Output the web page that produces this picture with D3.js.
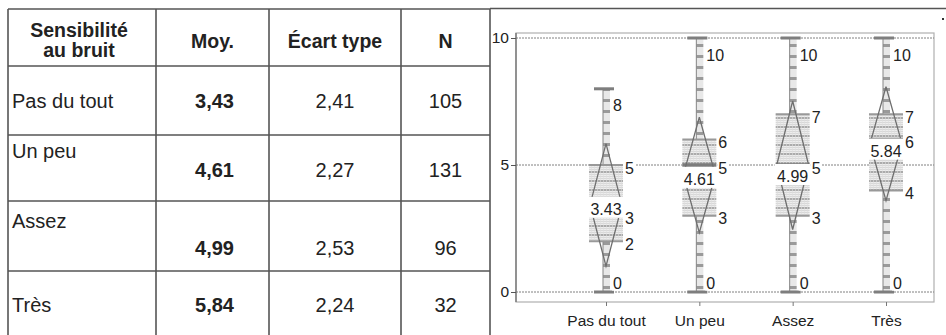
<!DOCTYPE html>
<html>
<head>
<meta charset="utf-8">
<script src="https://cdn.jsdelivr.net/npm/d3@7"></script>
<style>
  body { margin: 0; background: #fff; }
  svg { display: block; font-family: "Liberation Sans", Arial, sans-serif; }
</style>
</head>
<body>
<svg id="fig" width="946" height="335"></svg>
<script>
// data
var groups  = ["Pas du tout", "Un peu", "Assez", "Très"];
var means   = [3.43, 4.61, 4.99, 5.84];
var sds     = [2.41, 2.27, 2.53, 2.24];
var counts  = [105, 131, 96, 32];
var mins    = [0, 0, 0, 0];
var q1s     = [2, 3, 3, 4];
var medians = [3, 5, 5, 6];
var q3s     = [5, 6, 7, 7];
var maxs    = [8, 10, 10, 10];
var headers = [["Sensibilité", "au bruit"], ["Moy."], ["Écart type"], ["N"]];
var yTicks  = [0, 5, 10];

var svg = d3.select("svg#fig");
var comma = function(v) { return d3.format(".2f")(v).replace(".", ","); };
var FONT = "Liberation Sans, Arial, sans-serif";

// ---------- table ----------
var colEdges = [8, 156, 269, 401, 490];
var rowEdges = [9, 66, 135, 201, 271, 345];
// baseline offsets inside each body row: [label, values]
var rowText  = [[42, 42], [23, 42], [27, 54], [41, 41]];

var tbl = svg.append("g").attr("class", "table");

tbl.selectAll("line.h")
  .data(rowEdges.slice(0, 5))
  .enter().append("line")
  .attr("x1", colEdges[0]).attr("x2", colEdges[4])
  .attr("y1", function(d) { return d; }).attr("y2", function(d) { return d; })
  .attr("stroke", "#555").attr("stroke-width", 1.6);

tbl.selectAll("line.v")
  .data(colEdges)
  .enter().append("line")
  .attr("x1", function(d) { return d; }).attr("x2", function(d) { return d; })
  .attr("y1", rowEdges[0]).attr("y2", 335)
  .attr("stroke", "#555").attr("stroke-width", 1.6);

var colMid = function(i) { return (colEdges[i] + colEdges[i + 1]) / 2; };

headers.forEach(function(lines, i) {
  var t = tbl.append("text")
    .attr("x", colMid(i))
    .attr("text-anchor", "middle")
    .attr("font-size", 19.5).attr("font-weight", "bold").attr("fill", "#222");
  if (lines.length == 2) {
    t.attr("y", 37);
    t.append("tspan").attr("x", colMid(i) - 3).text(lines[0]);
    t.append("tspan").attr("x", colMid(i) - 3).attr("dy", 20).text(lines[1]);
  } else {
    t.attr("y", 48).text(lines[0]);
  }
});

groups.forEach(function(g, i) {
  var top = rowEdges[i + 1];
  var yl = top + rowText[i][0], yv = top + rowText[i][1];
  tbl.append("text").attr("x", 12).attr("y", yl)
    .attr("font-size", 20).attr("fill", "#222").text(g);
  tbl.append("text").attr("x", colMid(1) + 2).attr("y", yv).attr("text-anchor", "middle")
    .attr("font-size", 20).attr("font-weight", "bold").attr("fill", "#222").text(comma(means[i]));
  tbl.append("text").attr("x", colMid(2)).attr("y", yv).attr("text-anchor", "middle")
    .attr("font-size", 20).attr("fill", "#222").text(comma(sds[i]));
  tbl.append("text").attr("x", colMid(3)).attr("y", yv).attr("text-anchor", "middle")
    .attr("font-size", 20).attr("fill", "#222").text(counts[i]);
});

// ---------- chart panel ----------
svg.append("line").attr("x1", 490).attr("x2", 946).attr("y1", 8.5).attr("y2", 8.5)
  .attr("stroke", "#555").attr("stroke-width", 1.6);
svg.append("rect").attr("x", 942).attr("y", 18).attr("width", 2).attr("height", 2).attr("fill", "#333");

var plot = { left: 516, right: 934, top: 33, bottom: 302 };

var y = d3.scaleLinear().domain([0, 10]).range([292, 38]);
var x = d3.scalePoint().domain(groups).range([606, 886]);

// patterns
var defs = svg.append("defs");
var bp = defs.append("pattern").attr("id", "boxfill")
  .attr("patternUnits", "userSpaceOnUse").attr("width", 3).attr("height", 9);
bp.append("rect").attr("width", 3).attr("height", 9).attr("fill", "#ededed");
bp.append("rect").attr("y", 0).attr("width", 3).attr("height", 2).attr("fill", "#ababab");
[3, 5, 7].forEach(function(v) {
  bp.append("rect").attr("y", v).attr("width", 3).attr("height", 1).attr("fill", "#d8d8d8");
});
bp.append("rect").attr("x", 0).attr("width", 1).attr("height", 9).attr("fill", "#dedede").attr("opacity", 0.6);

var wp = defs.append("pattern").attr("id", "whisk")
  .attr("patternUnits", "userSpaceOnUse").attr("width", 8).attr("height", 11);
wp.append("rect").attr("width", 8).attr("height", 11).attr("fill", "#e8e8e8");
wp.append("rect").attr("y", 0).attr("width", 8).attr("height", 3).attr("fill", "#9a9a9a");

// frame
svg.append("rect")
  .attr("x", plot.left).attr("y", plot.top)
  .attr("width", plot.right - plot.left).attr("height", plot.bottom - plot.top)
  .attr("fill", "none").attr("stroke", "#b0b0b0").attr("stroke-width", 1.2);

// gridlines
svg.append("g").selectAll("line")
  .data(yTicks).enter().append("line")
  .attr("x1", plot.left).attr("x2", plot.right)
  .attr("y1", function(d) { return y(d); }).attr("y2", function(d) { return y(d); })
  .attr("stroke", "#808080").attr("stroke-width", 1).attr("stroke-dasharray", "2,1");

// y axis
var yAxis = svg.append("g")
  .attr("transform", "translate(" + plot.left + ",0)")
  .call(d3.axisLeft(y).tickValues(yTicks).tickSize(5).tickPadding(2).tickFormat(d3.format("d")));
yAxis.select(".domain").attr("d", "M0," + plot.top + "V" + plot.bottom).attr("stroke", "#777").attr("stroke-width", 1.4);
yAxis.selectAll(".tick line").attr("stroke", "#555");
yAxis.selectAll(".tick text").attr("font-size", 15.5).attr("fill", "#222").attr("font-family", FONT);

// x axis
var xAxis = svg.append("g")
  .attr("transform", "translate(0," + plot.bottom + ")")
  .call(d3.axisBottom(x).tickSize(4).tickPadding(9));
xAxis.select(".domain").remove();
xAxis.selectAll(".tick line").attr("stroke", "#777");
xAxis.selectAll(".tick text").attr("font-size", 15.5).attr("fill", "#222").attr("font-family", FONT);

// boxes
var boxW = 34, hw = boxW / 2;

function addLabel(g, tx, ty, txt) {
  var t = g.append("text").attr("x", tx).attr("y", ty).attr("dy", "0.35em")
    .attr("font-size", 16).attr("fill", "#222").text(txt);
  var bb = t.node().getBBox();
  g.insert("rect", function() { return t.node(); })
    .attr("x", bb.x - 1).attr("y", bb.y + 1).attr("width", bb.width + 2).attr("height", bb.height - 2)
    .attr("fill", "#fff");
}

groups.forEach(function(gname, i) {
  var cx = x(gname);
  var g = svg.append("g").attr("class", "box");

  // whisker band and line
  g.append("rect").attr("x", cx - 3).attr("width", 7)
    .attr("y", y(maxs[i])).attr("height", y(mins[i]) - y(maxs[i]))
    .attr("fill", "url(#whisk)");
  g.append("line").attr("x1", cx - 3).attr("x2", cx - 3)
    .attr("y1", y(maxs[i])).attr("y2", y(mins[i]))
    .attr("stroke", "#858585").attr("stroke-width", 1);

  // box
  g.append("rect").attr("x", cx - hw).attr("width", boxW)
    .attr("y", y(q3s[i])).attr("height", y(q1s[i]) - y(q3s[i]))
    .attr("fill", "url(#boxfill)");
  [q3s[i], q1s[i]].forEach(function(v) {
    g.append("line").attr("x1", cx - hw).attr("x2", cx + hw)
      .attr("y1", y(v)).attr("y2", y(v)).attr("stroke", "#999").attr("stroke-width", 2);
  });
  g.append("line").attr("x1", cx - hw).attr("x2", cx + hw)
    .attr("y1", y(medians[i])).attr("y2", y(medians[i]))
    .attr("stroke", "#7c7c7c").attr("stroke-width", 3.5);

  // caps
  [maxs[i], mins[i]].forEach(function(v) {
    g.append("rect").attr("x", cx - 12).attr("width", 20)
      .attr("y", y(v) - 1.5).attr("height", 3).attr("fill", "#7e7e7e");
  });

  // mean +/- sd diamond
  var dpath = d3.line()([
    [cx, y(means[i] + sds[i])], [cx + hw - 1, y(means[i])],
    [cx, y(means[i] - sds[i])], [cx - hw + 1, y(means[i])], [cx, y(means[i] + sds[i])]
  ]);
  g.append("path").attr("d", dpath).attr("fill", "none")
    .attr("stroke", "#6e6e6e").attr("stroke-width", 1.3);

  // mean label
  var base = y(means[i]) + 10;
  if (medians[i] > means[i]) base = Math.max(base, y(medians[i]) + 17);
  g.append("rect").attr("x", cx - 18).attr("width", 36)
    .attr("y", base - 18).attr("height", 21).attr("fill", "#fff");
  g.append("text").attr("x", cx).attr("y", base).attr("text-anchor", "middle")
    .attr("font-size", 16).attr("fill", "#222").text(d3.format(".2f")(means[i]));

  // value labels
  addLabel(g, cx + hw + 2, y(q3s[i]) + 3, q3s[i]);
  addLabel(g, cx + hw + 2, y(medians[i]) + 3, medians[i]);
  addLabel(g, cx + hw + 2, y(q1s[i]) + 3, q1s[i]);
  addLabel(g, cx + 7, y(maxs[i]) + 17, maxs[i]);
  addLabel(g, cx + 7, y(mins[i]) - 9, mins[i]);
});
</script>
</body>
</html>
